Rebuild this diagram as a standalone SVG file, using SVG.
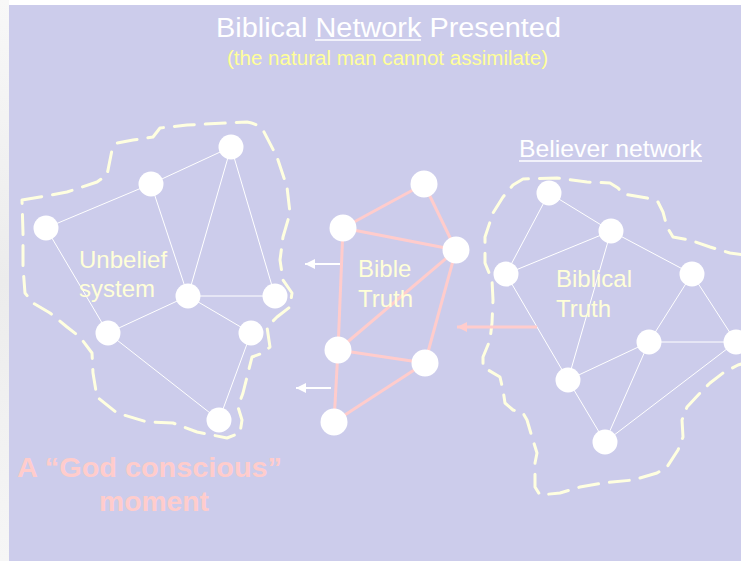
<svg xmlns="http://www.w3.org/2000/svg" width="741" height="561" viewBox="0 0 741 561">
<defs>
<style>
.t{font-family:"Liberation Sans",Arial,sans-serif}
.lbl{font-size:24px;fill:#FFFFD8}
.edge{stroke:#FFFFFF;stroke-width:1;fill:none}
.pedge{stroke:#FFCCCC;stroke-width:3;fill:none}
.node{fill:#FFFFFF}
.bound{fill:none;stroke:#FFFFE0;stroke-width:3;stroke-dasharray:20 11;stroke-linecap:round;stroke-linejoin:round}
</style>
<marker id="wh" markerUnits="userSpaceOnUse" markerWidth="12" markerHeight="10" refX="10" refY="5" orient="auto">
<path d="M0,0 L10,5 L0,10 Z" fill="#FFFFFF"/>
</marker>
<marker id="ph" markerUnits="userSpaceOnUse" markerWidth="12" markerHeight="10" refX="10" refY="5" orient="auto">
<path d="M0,0 L10,5 L0,10 Z" fill="#FFCCCC"/>
</marker>
<linearGradient id="strip" x1="0" y1="0" x2="0" y2="1">
<stop offset="0" stop-color="#F8F8F8"/>
<stop offset="0.5" stop-color="#ECECEC"/>
<stop offset="1" stop-color="#F6F6F6"/>
</linearGradient>
</defs>
<rect x="0" y="0" width="741" height="561" fill="#FFFFFF"/>
<rect x="0" y="0" width="9" height="561" fill="url(#strip)"/>
<rect x="9" y="5" width="732" height="556" fill="#CCCCEB"/>

<g id="title">
<text class="t" x="216" y="37" font-size="27" fill="#FFFFFF" textLength="345" lengthAdjust="spacingAndGlyphs">Biblical Network Presented</text>
<line x1="315" y1="40" x2="421" y2="40" stroke="#FFFFFF" stroke-width="1.5"/>
<text class="t" x="227" y="65" font-size="20" fill="#FFFF99" textLength="321" lengthAdjust="spacingAndGlyphs">(the natural man cannot assimilate)</text>
</g>

<g id="boundaries">
<path class="bound" d="M22,200 L40,197 L67,192 L97,182 L107,175 L112,150 L117,143 L133,140 L153,137 L160,128 L187,125 L247,122 Q258,124 263,130 L277,157 L287,187 L290,213 L283,237 L280,260 L283,280 L292,293 L290,307 L277,317 L267,327 L270,347 L263,353 L252,357 L248,373 L243,393 L238,407 L242,420 L240,433 L227,438 L197,432 L173,423 L147,422 L117,413 L97,397 L93,373 L92,353 L80,337 L67,327 L50,313 L33,303 L25,293 L23,267 L23,233 Z"/>
<path class="bound" d="M745,255 L730,253 L710,247 L690,240 L673,237 L667,227 L663,212 L658,202 L647,198 L623,194 L618,188 L610,183 L587,182 L557,178 L523,179 L513,185 L503,197 L493,213 L485,237 L485,263 L492,280 L493,300 L492,323 L490,340 L483,357 L483,367 L500,377 L503,390 L505,403 L513,410 L523,413 L527,420 L532,437 L537,453 L535,463 L535,487 L540,495 L560,493 L580,487 L603,483 L633,480 L657,473 L667,467 L678,450 L683,437 L682,420 L687,407 L700,393 L710,383 L723,373 L738,365 L745,363"/>
</g>

<g id="connectors">
<g id="unbelief-edges" class="edge">
<line x1="46" y1="228" x2="151" y2="184"/>
<line x1="151" y1="184" x2="231" y2="147"/>
<line x1="46" y1="228" x2="108" y2="333"/>
<line x1="151" y1="184" x2="188" y2="296"/>
<line x1="231" y1="147" x2="188" y2="296"/>
<line x1="231" y1="147" x2="275" y2="296"/>
<line x1="188" y1="296" x2="275" y2="296"/>
<line x1="188" y1="296" x2="108" y2="333"/>
<line x1="188" y1="296" x2="251" y2="333"/>
<line x1="108" y1="333" x2="219" y2="420"/>
<line x1="251" y1="333" x2="219" y2="420"/>
</g>
<g id="bible-edges" class="pedge">
<line x1="343" y1="228" x2="424" y2="184"/>
<line x1="424" y1="184" x2="456" y2="250"/>
<line x1="343" y1="228" x2="456" y2="250"/>
<line x1="343" y1="228" x2="338" y2="350"/>
<line x1="456" y1="250" x2="338" y2="350"/>
<line x1="456" y1="250" x2="425" y2="363"/>
<line x1="338" y1="350" x2="425" y2="363"/>
<line x1="338" y1="350" x2="334" y2="422"/>
<line x1="425" y1="363" x2="334" y2="422"/>
</g>
<g id="believer-edges" class="edge">
<line x1="549" y1="193" x2="611" y2="231"/>
<line x1="549" y1="193" x2="506" y2="274"/>
<line x1="506" y1="274" x2="611" y2="231"/>
<line x1="611" y1="231" x2="692" y2="274"/>
<line x1="611" y1="231" x2="568" y2="380"/>
<line x1="506" y1="274" x2="568" y2="380"/>
<line x1="692" y1="274" x2="649" y2="342"/>
<line x1="692" y1="274" x2="736" y2="342"/>
<line x1="649" y1="342" x2="736" y2="342"/>
<line x1="649" y1="342" x2="568" y2="380"/>
<line x1="649" y1="342" x2="605" y2="442"/>
<line x1="568" y1="380" x2="605" y2="442"/>
<line x1="736" y1="342" x2="605" y2="442"/>
</g>
<g id="arrows">
<line x1="340" y1="264" x2="305" y2="264" stroke="#FFFFFF" stroke-width="2" marker-end="url(#wh)"/>
<line x1="331" y1="388" x2="296" y2="388" stroke="#FFFFFF" stroke-width="2" marker-end="url(#wh)"/>
<line x1="537" y1="327" x2="457" y2="327" stroke="#FFCCCC" stroke-width="3" marker-end="url(#ph)"/>
</g>
</g>

<g id="unbelief-nodes" class="node">
<circle id="u1" cx="231" cy="147" r="12.5"/>
<circle id="u2" cx="151" cy="184" r="12.5"/>
<circle id="u3" cx="46" cy="228" r="12.5"/>
<circle id="u4" cx="188" cy="296" r="12.5"/>
<circle id="u5" cx="275" cy="296" r="12.5"/>
<circle id="u6" cx="108" cy="333" r="12.5"/>
<circle id="u7" cx="251" cy="333" r="12.5"/>
<circle id="u8" cx="219" cy="420" r="12.5"/>
</g>
<g id="bible-nodes" class="node">
<circle id="b1" cx="424" cy="184" r="13.5"/>
<circle id="b2" cx="343" cy="228" r="13.5"/>
<circle id="b3" cx="456" cy="250" r="13.5"/>
<circle id="b4" cx="338" cy="350" r="13.5"/>
<circle id="b5" cx="425" cy="363" r="13.5"/>
<circle id="b6" cx="334" cy="422" r="13.5"/>
</g>
<g id="believer-nodes" class="node">
<circle id="r1" cx="549" cy="193" r="12.5"/>
<circle id="r2" cx="611" cy="231" r="12.5"/>
<circle id="r3" cx="506" cy="274" r="12.5"/>
<circle id="r4" cx="692" cy="274" r="12.5"/>
<circle id="r5" cx="649" cy="342" r="12.5"/>
<circle id="r6" cx="736" cy="342" r="12.5"/>
<circle id="r7" cx="568" cy="380" r="12.5"/>
<circle id="r8" cx="605" cy="442" r="12.5"/>
</g>

<g id="labels">
<text class="t lbl" x="79" y="268">Unbelief</text>
<text class="t lbl" x="79" y="297">system</text>
<text class="t lbl" x="358" y="277">Bible</text>
<text class="t lbl" x="358" y="307">Truth</text>
<text class="t lbl" x="556" y="287">Biblical</text>
<text class="t lbl" x="556" y="317">Truth</text>
<text class="t" x="519" y="157" font-size="24" fill="#FFFFFF" textLength="183" lengthAdjust="spacingAndGlyphs">Believer network</text>
<line x1="519" y1="161" x2="702" y2="161" stroke="#FFFFFF" stroke-width="1.5"/>
<text class="t" x="17" y="477" font-size="27" font-weight="bold" fill="#FFCCCC" textLength="265" lengthAdjust="spacingAndGlyphs">A “God conscious”</text>
<text class="t" x="99" y="511" font-size="28" font-weight="bold" fill="#FFCCCC" textLength="110" lengthAdjust="spacingAndGlyphs">moment</text>
</g>
</svg>
